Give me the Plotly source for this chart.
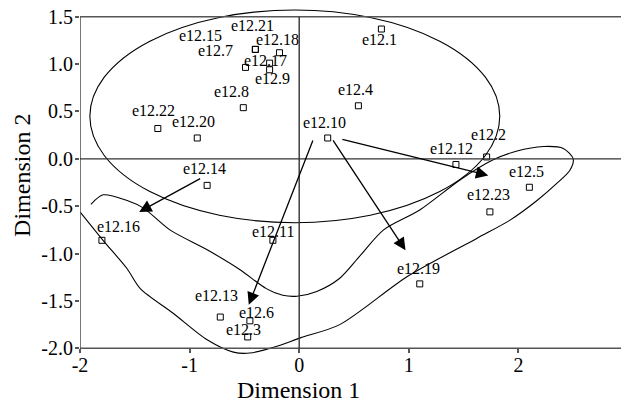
import plotly.graph_objects as go

# =========================
# DATA
# =========================
labels = ["e12.1", "e12.2", "e12.3", "e12.4", "e12.5", "e12.6", "e12.7", "e12.8",
          "e12.9", "e12.10", "e12.11", "e12.12", "e12.13", "e12.14", "e12.15",
          "e12.16", "e12.17", "e12.18", "e12.19", "e12.20", "e12.21", "e12.22", "e12.23"]
dim1 = [0.75, 1.71, -0.47, 0.54, 2.10, -0.45, -0.49, -0.51,
        -0.27, 0.26, -0.24, 1.43, -0.72, -0.84, -0.40,
        -1.80, -0.27, -0.18, 1.10, -0.93, -0.40, -1.29, 1.74]
dim2 = [1.37, 0.02, -1.88, 0.56, -0.30, -1.71, 0.965, 0.54,
        0.94, 0.22, -0.86, -0.06, -1.67, -0.28, 1.155,
        -0.86, 1.01, 1.12, -1.32, 0.22, 1.155, 0.32, -0.56]

# contour of the lower group (hand)
loop_x = [-1.90, -1.79, -1.57, -1.42, -1.18, -0.84, -0.54, -0.30, -0.15, -0.02,
          0.16, 0.37, 0.55, 0.77, 1.10, 1.47, 1.77, 1.98, 2.23, 2.41, 2.50,
          2.47, 2.35, 2.17, 1.92, 1.62, 0.99, 0.37, 0.01, -0.18, -0.45, -0.60,
          -0.84, -1.15, -1.45, -1.57, -1.79, -2.00]
loop_y = [-0.48, -0.38, -0.44, -0.52, -0.75, -0.96, -1.17, -1.37, -1.44, -1.45,
          -1.40, -1.26, -1.03, -0.75, -0.54, -0.22, -0.01, 0.08, 0.13, 0.11, 0.00,
          -0.12, -0.26, -0.44, -0.65, -0.84, -1.24, -1.75, -1.89, -1.97, -2.05, -2.04,
          -1.91, -1.63, -1.37, -1.16, -0.86, -0.56]

# ellipse around the upper group
ellipse_x = [-1.91, 1.83]
ellipse_y = [-0.674, 1.571]

# arrows (tail -> head)
arrow_tail_x = [-0.89, 0.13, 0.30, 0.38]
arrow_tail_y = [-0.20, 0.21, 0.21, 0.21]
arrow_head_x = [-1.46, -0.46, 0.97, 1.725]
arrow_head_y = [-0.56, -1.54, -0.965, -0.175]

x_ticks = [-2, -1, 0, 1, 2, 3]
y_ticks = [-2.0, -1.5, -1.0, -0.5, 0.0, 0.5, 1.0, 1.5]
frame_x = [-2, 3]
frame_y = [-2, 1.5]

# label offsets in px (dx, dy screen)
label_offset = {
    "e12.1": (-2, 10), "e12.2": (2, -22), "e12.3": (-4, -7), "e12.4": (-3, -16),
    "e12.5": (-3, -16), "e12.6": (7, -8), "e12.7": (-30, -17), "e12.8": (-12, -16),
    "e12.9": (3, 9), "e12.10": (-3, -15), "e12.11": (1, -9), "e12.12": (-4, -16),
    "e12.13": (-4, -22), "e12.14": (-3, -17), "e12.15": (-55, -14), "e12.16": (17, -14),
    "e12.17": (-4, -3), "e12.18": (-2, -13), "e12.19": (-1, -15), "e12.20": (-4, -16),
    "e12.21": (-3, -24), "e12.22": (-4, -18), "e12.23": (-1, -17),
}

SERIF = "Liberation Serif, Times New Roman, serif"
AXIS_COL = "#555555"
# the page body adds 8px around the figure, margins take that into account
M_L, M_R, M_T, M_B = 72, 9, 0, 56
PLOT_H = 402 - M_T - M_B
Y_RANGE = [-2.06, 1.592]

fig = go.Figure()

fig.add_trace(go.Scatter(
    x=loop_x, y=loop_y, mode="lines",
    line=dict(color="black", width=1.1, shape="spline", smoothing=0.8),
    hoverinfo="skip", showlegend=False
))

fig.add_trace(go.Scatter(
    x=dim1, y=dim2, mode="markers", text=labels,
    marker=dict(symbol="square-open", size=6, color="black", line=dict(width=1)),
    showlegend=False
))

fig.add_shape(type="circle", xref="x", yref="y",
              x0=ellipse_x[0], x1=ellipse_x[1], y0=ellipse_y[0], y1=ellipse_y[1],
              line=dict(color="black", width=1.1))

# frame + zero lines
fig.add_shape(type="rect", xref="x", yref="y",
              x0=frame_x[0], x1=frame_x[1], y0=frame_y[0], y1=frame_y[1],
              line=dict(color=AXIS_COL, width=1.6))
fig.add_shape(type="line", xref="x", yref="y", x0=0, x1=0, y0=frame_y[0], y1=frame_y[1],
              line=dict(color="#333333", width=1.4))
fig.add_shape(type="line", xref="x", yref="y", x0=frame_x[0], x1=frame_x[1], y0=0, y1=0,
              line=dict(color="#333333", width=1.4))

for lab, px, py in zip(labels, dim1, dim2):
    dx, dy = label_offset[lab]
    fig.add_annotation(x=px, y=py, xref="x", yref="y", text=lab, showarrow=False,
                       xanchor="center", yanchor="middle",
                       xshift=dx, yshift=-dy, font=dict(family=SERIF, size=16, color="black"))

for tx, ty, hx, hy in zip(arrow_tail_x, arrow_tail_y, arrow_head_x, arrow_head_y):
    fig.add_annotation(x=hx, y=hy, ax=tx, ay=ty, xref="x", yref="y", axref="x", ayref="y",
                       text="", showarrow=True, arrowhead=2, arrowsize=1.9,
                       arrowwidth=1.3, arrowcolor="black", standoff=0, startstandoff=0)

# axis titles, placed like the original
fig.add_annotation(text="Dimension 1", xref="paper", yref="paper", x=0.398,
                   y=-(382 - PLOT_H) / PLOT_H, xanchor="center", yanchor="middle",
                   showarrow=False, font=dict(family=SERIF, size=24, color="black"))
fig.add_annotation(text="Dimension 2", xref="paper", yref="paper", x=-0.106,
                   y=(PLOT_H - 167) / PLOT_H, xanchor="center", yanchor="middle",
                   textangle=-90, showarrow=False,
                   font=dict(family=SERIF, size=24, color="black"))

fig.update_layout(
    width=629, height=402,
    margin=dict(l=M_L, r=M_R, t=M_T, b=M_B),
    plot_bgcolor="white", paper_bgcolor="white",
    xaxis=dict(range=[-2, 3], tickvals=x_ticks, ticktext=[str(v) for v in x_ticks],
               showgrid=False, zeroline=False, showline=False, automargin=False,
               ticks="outside", ticklen=4, tickwidth=1.5, tickcolor=AXIS_COL,
               ticklabeloverflow="allow", ticklabelstandoff=-5,
               anchor="free", position=(frame_y[0] - Y_RANGE[0]) / (Y_RANGE[1] - Y_RANGE[0]),
               tickfont=dict(family=SERIF, size=20, color="black")),
    yaxis=dict(range=Y_RANGE, tickvals=y_ticks, ticktext=[f"{v:.1f}" for v in y_ticks],
               showgrid=False, zeroline=False, showline=False, automargin=False,
               ticks="outside", ticklen=4, tickwidth=1.5, tickcolor=AXIS_COL,
               ticklabeloverflow="allow", ticklabelstandoff=-2,
               tickfont=dict(family=SERIF, size=20, color="black")),
)

fig.write_html("out.html")
